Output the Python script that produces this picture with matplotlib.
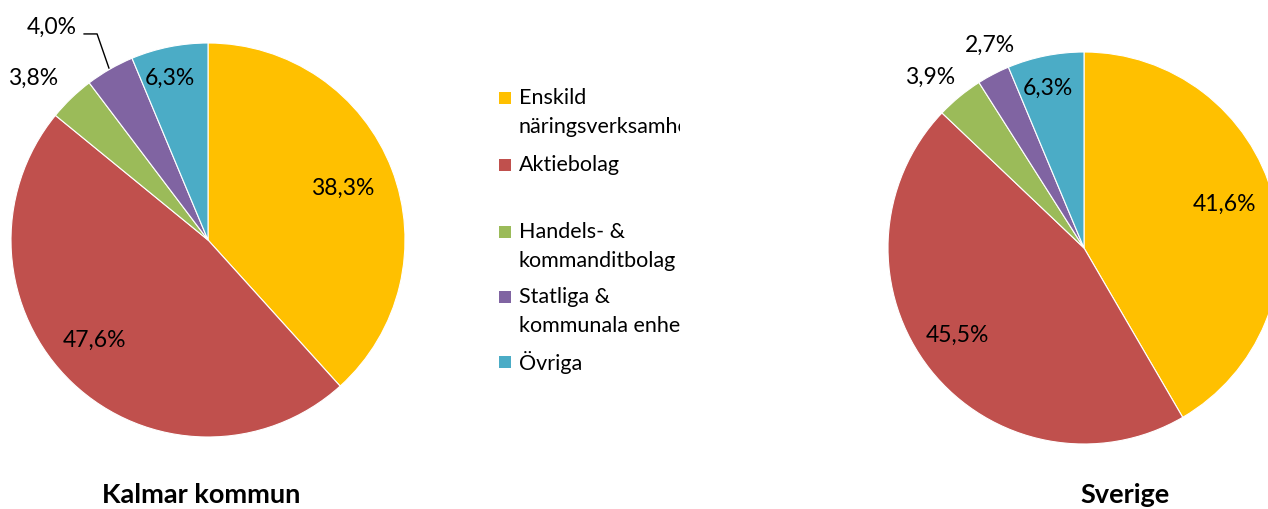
import matplotlib
matplotlib.use("Agg")
import matplotlib.pyplot as plt
from matplotlib.patches import Rectangle

categories = ["Enskild\nnäringsverksamhet", "Aktiebolag", "Handels- &\nkommanditbolag",
              "Statliga &\nkommunala enheter", "Övriga"]
kalmar = [38.3, 47.6, 3.8, 4.0, 6.3]
sverige = [41.6, 45.5, 3.9, 2.7, 6.3]
kalmar_labels = ["38,3%", "47,6%", "3,8%", "4,0%", "6,3%"]
sverige_labels = ["41,6%", "45,5%", "3,9%", "2,7%", "6,3%"]
colors = ["#FFC000", "#C0504D", "#9BBB59", "#8064A2", "#4BACC6"]

plt.rcParams['font.family'] = ['Lato', 'DejaVu Sans']
W, H = 1268, 509
fig = plt.figure(figsize=(W / 100, H / 100), dpi=100)

def pie_axes(cx, cy, r):
    return fig.add_axes([(cx - r) / W, (H - cy - r) / H, 2 * r / W, 2 * r / H])

def draw_pie(ax, vals, labels, label_pos):
    ax.pie(vals, colors=colors, startangle=90, counterclock=False, radius=1,
           wedgeprops=dict(edgecolor="white", linewidth=0.8))
    ax.set_xlim(-1, 1)
    ax.set_ylim(-1, 1)
    ax.set_aspect("equal")
    ax.axis("off")
    for lab, (x, y) in zip(labels, label_pos):
        ax.text(x, y, lab, ha="center", va="center", fontsize=16.5, color="black")

axL = pie_axes(208, 240, 197)
draw_pie(axL, kalmar, kalmar_labels,
         [(0.685, 0.264), (-0.574, -0.508), (-0.888, 0.822), (-0.792, 1.081), (-0.193, 0.822)])
axL.plot([-0.629, -0.563, -0.503], [1.046, 1.046, 0.873], color="black", lw=1, clip_on=False)

axR = pie_axes(1084, 248, 196)
draw_pie(axR, sverige, sverige_labels,
         [(0.719, 0.224), (-0.648, -0.444), (-0.786, 0.872), (-0.48, 1.036), (-0.184, 0.816)])

fig.text(201 / W, 1 - 495 / H, "Kalmar kommun", ha="center", va="center",
         fontsize=19.5, fontweight="bold")
fig.text(1125 / W, 1 - 495 / H, "Sverige", ha="center", va="center",
         fontsize=19.5, fontweight="bold")

# legend (clipped like the original)
legx0, legx1 = 495, 680
axLeg = fig.add_axes([legx0 / W, 0, (legx1 - legx0) / W, 1])
axLeg.set_xlim(legx0, legx1)
axLeg.set_ylim(H, 0)
axLeg.axis("off")
first_line_y = [98, 165, 232, 297, 362]
line_gap = 29
for cat, col, y in zip(categories, colors, first_line_y):
    axLeg.add_patch(Rectangle((499, y - 6), 12, 12, facecolor=col, edgecolor="none"))
    for i, line in enumerate(cat.split("\n")):
        t = axLeg.text(519, y + i * line_gap, line, ha="left", va="center", fontsize=15.5)
        t.set_clip_on(True)
        t.set_clip_box(axLeg.bbox)

fig.savefig("out.png", dpi=100)
